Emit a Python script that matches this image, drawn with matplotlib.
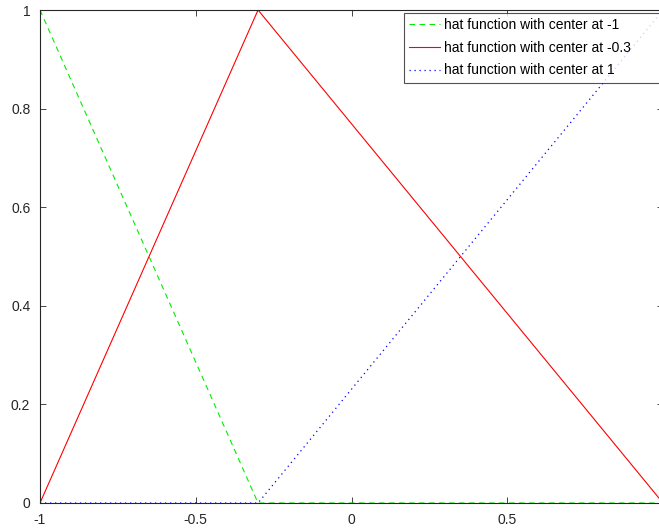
import matplotlib.pyplot as plt

plt.rcParams['font.family'] = ['Liberation Sans', 'DejaVu Sans']

# node positions and the value of each hat function at the nodes
nodes = [-1, -0.3, 1]
hat_left = [1, 0, 0]
hat_mid = [0, 1, 0]
hat_right = [0, 0, 1]

xticks = [-1, -0.5, 0, 0.5, 1]
xtick_labels = ['-1', '-0.5', '0', '0.5', '']
yticks = [0, 0.2, 0.4, 0.6, 0.8, 1]
ytick_labels = ['0', '0.2', '0.4', '0.6', '0.8', '1']

W, H = 659, 530
fig = plt.figure(figsize=(W / 100, H / 100), dpi=100)
ax = fig.add_axes([40 / W, 27 / H, 623 / W, 493 / H])

ax.plot(nodes, hat_left, color='#00ee00', lw=0.8, dashes=(5, 4),
        label='hat function with center at -1')
ax.plot(nodes, hat_mid, color='#ff0000', lw=0.8,
        label='hat function with center at -0.3')
ax.plot(nodes, hat_right, color='#0000ff', lw=0.9, dashes=(1, 3),
        label='hat function with center at 1')

ax.set_xlim(-1, 1)
ax.set_ylim(0, 1)
ax.set_xticks(xticks, xtick_labels)
ax.set_yticks(yticks, ytick_labels)
ax.tick_params(direction='in', length=4, width=0.6, top=True, right=True,
               labelsize=10, colors='#262626', pad=7)
for sp in ax.spines.values():
    sp.set_color('#262626')
    sp.set_linewidth(0.8)

# legend box runs from x=404 px to past the right edge
leg = ax.legend(loc='upper left', mode='expand', fontsize=10, frameon=True,
                fancybox=False, bbox_to_anchor=(404 / W, 0, 280 / W, 1 - 13 / H),
                bbox_transform=fig.transFigure, borderaxespad=0,
                handlelength=2.2, handletextpad=0.3, labelspacing=0.62,
                borderpad=0.38)
leg.get_frame().set_edgecolor('#262626')
leg.get_frame().set_linewidth(0.8)

fig.savefig('out.png', dpi=100)
